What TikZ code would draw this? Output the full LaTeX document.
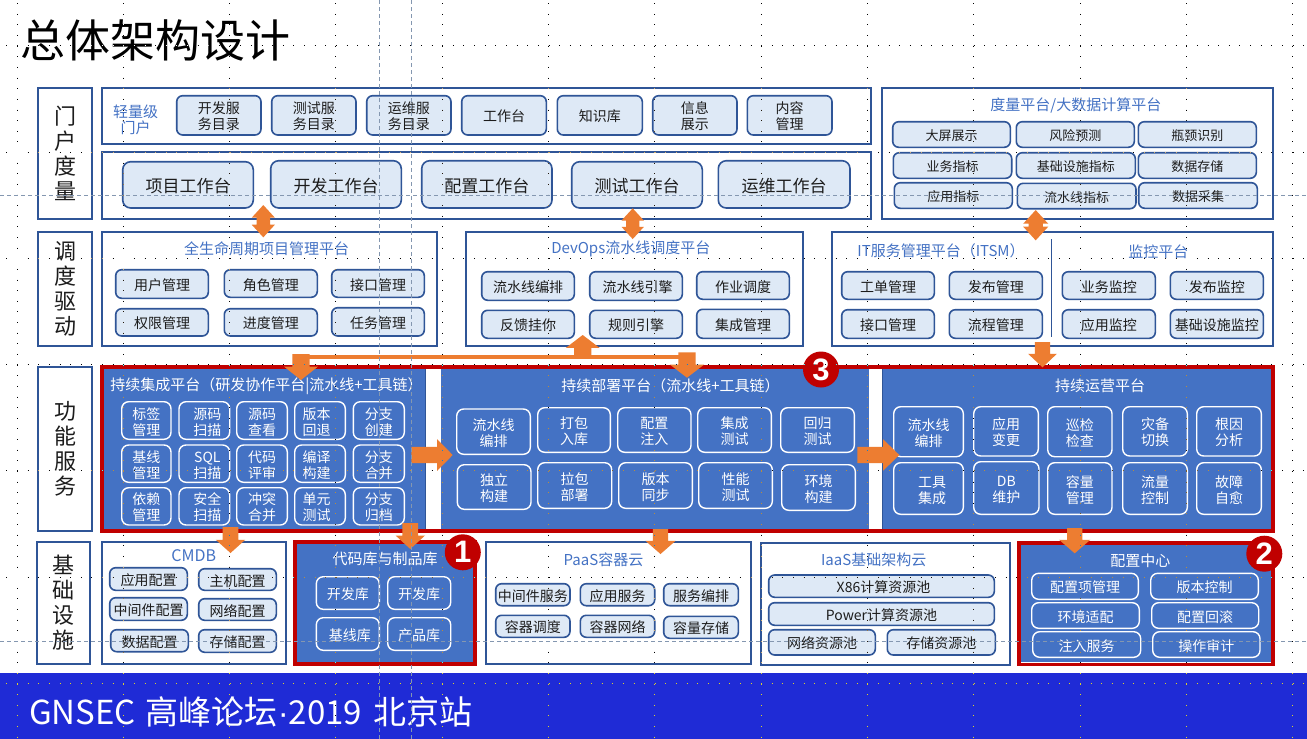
\documentclass[tikz,border=0pt]{standalone}
\usepackage{fontspec}
\setmainfont{Noto Sans CJK SC}
\newfontfamily\numfont{Liberation Sans}
\usetikzlibrary{shapes.arrows,calc}
\definecolor{navy}{HTML}{2F5597}
\definecolor{lite}{HTML}{DEE9F6}
\definecolor{midb}{HTML}{4472C4}
\definecolor{redb}{HTML}{C00000}
\definecolor{org}{HTML}{ED7D31}
\definecolor{foot}{HTML}{1F2BD6}
\definecolor{guide}{HTML}{8497B0}
\definecolor{ink}{HTML}{1C1C1C}
\newcounter{nn}
\newcommand\fs[1]{\fontsize{#1}{16}\selectfont}
\newcommand\rk{\hspace*{6pt}}
\newcommand\dn{\rule{0pt}{1.02em}}
\newcommand\bx[6]{\stepcounter{nn}%
  \node[#5,name=b\thenn,minimum width={(#3-(#1))*1pt},minimum height={(#4-(#2))*1pt}]
    at ({(#1+#3)/2},{(#2+#4)/2}) {#6};}
\newcommand\tx[4]{\stepcounter{nn}\node[#3,name=t\thenn] at (#1,#2) {#4};}
% name, rotation, tail x, tail y, length, shaft, head, head length
\newcommand\arw[8]{%
  \pgfmathsetmacro\hext{(#7-#6)/2}\pgfmathsetmacro\hang{2*atan(#7/2/#8)}\pgfmathsetmacro\hin{#6/2}%
  \node[single arrow,fill=org,draw=none,outer sep=0pt,inner xsep=0pt,inner ysep=\hin pt,
    anchor=tail,rotate=#2,minimum height=#5pt,minimum width=#7pt,
    single arrow head extend=\hext pt,single arrow tip angle=\hang,name=#1] at (#3,#4) {};}
\newcommand\dbl[7]{%
  \pgfmathsetmacro\hext{(#6-#5)/2}\pgfmathsetmacro\hin{#5/2}%
  \node[double arrow,fill=org,draw=none,outer sep=0pt,inner xsep=0pt,inner ysep=\hin pt,
    rotate=90,minimum height=#4pt,minimum width=#6pt,
    double arrow head extend=\hext pt,double arrow tip angle=#7,name=#1] at (#2,#3) {};}
\tikzset{
  x=1pt,y=-1pt,
  every node/.style={inner sep=0pt,outer sep=0pt,align=center,text=ink},
  side/.style={draw=navy,line width=1.8pt,fill=white,font=\fontsize{22}{25}\selectfont},
  frame/.style={draw=navy,line width=1.8pt,fill=white},
  lb/.style={draw=navy,line width=1.6pt,fill=lite,rounded corners=6pt,font=\fs{14}},
  lbs/.style={lb,font=\fs{13}},
  lbb/.style={lb,rounded corners=8pt,font=\fs{17}},
  wb/.style={draw=white,line width=1.4pt,rounded corners=7pt,text=white,font=\fs{14}},
  panel/.style={fill=midb,draw=navy,line width=.8pt},
  redframe/.style={draw=redb,line width=3.8pt},
  ttl/.style={text=midb,font=\fs{15}},
  wttl/.style={text=white,font=\fs{15}},
  badge/.style={circle,fill=redb,minimum size=36pt,text=white,font=\numfont\bfseries\fontsize{31}{31}\selectfont},
  gridline/.style={draw=white,line width=1pt,dash pattern=on 1pt off 9.63pt},
  guideline/.style={draw=guide,line width=.8pt,dash pattern=on 4pt off 3pt},
}
\begin{document}
\begin{tikzpicture}
\useasboundingbox (0,0) rectangle (1307,739);
\fill[white] (0,0) rectangle (1307,739);
% footer + title
\bx{0}{673}{1307}{739}{fill=foot}{}
\node[anchor=west,text=white,font=\fontsize{33}{36}\selectfont,name=foottext] at (29,712) {GNSEC\kern10pt 高峰论坛{\numfont ·}2019\kern12pt 北京站};
\node[text=black,font=\fontsize{45}{50}\selectfont,name=maintitle] at (155.5,40) {总体架构设计};
% side labels
\bx{37.7}{87.7}{92.3}{218.7}{side}{门\\户\\度\\量}
\bx{37.7}{232}{92.3}{346}{side}{调\\度\\驱\\动}
\bx{37.7}{366.7}{92.3}{531}{side}{功\\能\\服\\务}
\bx{36.7}{541.7}{90.3}{664}{side}{基\\础\\设\\施}
% portal row 1
\bx{101.7}{87.7}{870.7}{143.7}{frame}{}
\tx{135.5}{118.7}{text=midb,font=\fs{15}}{\dn 轻量级\\门户}
\bx{176.7}{95.7}{261}{135}{lb}{\dn 开发服\\务目录}
\bx{271.7}{95.7}{356}{135}{lb}{\dn 测试服\\务目录}
\bx{366.7}{95.7}{451}{135}{lb}{\dn 运维服\\务目录}
\bx{461.7}{95.7}{546.3}{135}{lb}{\dn 工作台}
\bx{557.3}{95.7}{642.3}{135}{lb}{\dn 知识库}
\bx{652.7}{95.7}{737}{135}{lb}{\dn 信息\\展示}
\bx{747.3}{95.7}{832}{135}{lb}{\dn 内容\\管理}
% portal row 2
\bx{101.7}{152}{870.7}{218.7}{frame}{}
\bx{122.7}{161.7}{253.3}{208}{lbb}{\dn 项目工作台}
\bx{270.7}{160.7}{401.3}{208}{lbb}{\dn 开发工作台}
\bx{421.7}{160.7}{552}{208}{lbb}{\dn 配置工作台}
\bx{571.7}{161.7}{702.3}{208}{lbb}{\dn 测试工作台}
\bx{718.3}{160.7}{850}{208}{lbb}{\dn 运维工作台}
% metrics
\bx{881.7}{87.7}{1273.3}{218.7}{frame}{}
\tx{1075.8}{104}{ttl}{\dn 度量平台/大数据计算平台}
\bx{892.7}{121.7}{1010.3}{147.3}{lbs}{\dn 大屏展示}
\bx{1016.3}{121.7}{1134.3}{147.3}{lbs}{\dn 风险预测}
\bx{1138.3}{121.7}{1256.3}{147.3}{lbs}{\dn 瓶颈识别}
\bx{893.3}{152.7}{1011.7}{178.3}{lbs}{\dn 业务指标}
\bx{1016.3}{152.7}{1135.3}{178.3}{lbs}{\dn 基础设施指标}
\bx{1138.3}{152.7}{1256.3}{178.3}{lbs}{\dn 数据存储}
\bx{894.3}{182.7}{1012.3}{208.3}{lbs}{\dn 应用指标}
\bx{1017.3}{183.3}{1136}{208.7}{lbs}{\dn 流水线指标}
\bx{1138.7}{182.7}{1257.3}{208.3}{lbs}{\dn 数据采集}
% lifecycle
\bx{101.7}{232}{437}{346}{frame}{}
\tx{266.5}{247.7}{ttl}{\dn 全生命周期项目管理平台}
\bx{115.7}{269.7}{208.3}{298.3}{lb}{\dn 用户管理}
\bx{224.3}{269.7}{317.3}{297.3}{lb}{\dn 角色管理}
\bx{331.7}{269.7}{424.3}{297.3}{lb}{\dn 接口管理}
\bx{115.7}{308.7}{208.3}{336}{lb}{\dn 权限管理}
\bx{224.3}{308.7}{317.3}{336}{lb}{\dn 进度管理}
\bx{331.7}{307.7}{424.3}{336}{lb}{\dn 任务管理}
% devops
\bx{465.7}{232}{803.3}{346}{frame}{}
\tx{630.8}{247.7}{ttl}{\dn DevOps流水线调度平台}
\bx{481.7}{271.7}{574.3}{300.3}{lb}{\dn 流水线编排}
\bx{589.7}{271.7}{682.3}{300.3}{lb}{\dn \hspace*{3pt}流水线引擎}
\bx{696.7}{271.7}{789.3}{299.3}{lb}{\dn 作业调度}
\bx{481.7}{310.3}{574.3}{338.3}{lb}{\dn 反馈挂你}
\bx{589.7}{310.3}{682.3}{338.3}{lb}{\dn 规则引擎}
\bx{696.7}{309.3}{789.3}{338.3}{lb}{\dn 集成管理}
% itsm + monitor
\bx{832}{232}{1273.3}{346}{frame}{}
\coordinate (divtop) at (1051.3,239.3);
\coordinate (divbot) at (1051.3,336.7);
\draw[navy,line width=.9pt] (divtop) -- (divbot);
\tx{941}{250}{ttl}{\dn IT服务管理平台（ITSM）}
\tx{1158.3}{250}{ttl}{\dn 监控平台}
\bx{841.7}{271.7}{934.3}{299.3}{lb}{\dn 工单管理}
\bx{949.3}{271.7}{1042.3}{299.3}{lb}{\dn 发布管理}
\bx{1062.3}{271.7}{1155.3}{299.3}{lb}{\dn 业务监控}
\bx{1170.3}{271.7}{1263.3}{299.3}{lb}{\dn 发布监控}
\bx{841.7}{309.7}{934.3}{338.3}{lb}{\dn 接口管理}
\bx{949.3}{309.7}{1042.3}{338.3}{lb}{\dn 流程管理}
\bx{1062.3}{309.7}{1155.3}{338.3}{lb}{\dn 应用监控}
\bx{1170.3}{309.7}{1263.3}{338.3}{lb}{\dn 基础设施监控}
% function panels
\bx{103}{368}{425}{530}{panel}{}
\bx{441}{368}{869.3}{530}{fill=midb}{}
\bx{882.3}{368}{1272}{530}{panel}{}
\tx{266.5}{385}{wttl}{\dn 持续集成平台（研发协作平台|流水线+工具链）}
\tx{670.5}{384.3}{wttl}{\dn 持续部署平台（流水线+工具链）}
\tx{1100}{384.3}{wttl}{\dn 持续运营平台}
% CI
\bx{121.7}{401.7}{171}{439.3}{wb}{\dn 标签\\管理}
\bx{179}{401.7}{229.7}{439.3}{wb}{\dn\rk 源码\\\rk 扫描}
\bx{236.7}{401.7}{287.3}{439.3}{wb}{\dn 源码\\查看}
\bx{294.7}{401.7}{345.3}{439.3}{wb}{\dn 版本\kern7pt\\回退\kern7pt}
\bx{353.3}{401.7}{404.3}{439.3}{wb}{\dn 分支\\创建}
\bx{121.7}{445}{171}{482.3}{wb}{\dn 基线\\管理}
\bx{179}{445}{229.7}{482.3}{wb}{\dn\rk SQL\\\rk 扫描}
\bx{236.7}{445}{287.3}{482.3}{wb}{\dn 代码\\评审}
\bx{294.7}{445}{345.3}{482.3}{wb}{\dn 编译\kern7pt\\构建\kern7pt}
\bx{353.3}{445}{404.3}{482.3}{wb}{\dn 分支\\合并}
\bx{121.7}{487.7}{171}{525}{wb}{\dn 依赖\\管理}
\bx{179}{487.7}{229.7}{525}{wb}{\dn\rk 安全\\\rk 扫描}
\bx{236.7}{487.7}{287.3}{525}{wb}{\dn 冲突\\合并}
\bx{294.7}{487.7}{345.3}{525}{wb}{\dn 单元\kern7pt\\测试\kern7pt}
\bx{353.3}{487.7}{404.3}{525}{wb}{\dn 分支\\归档}
% CD
\bx{456.7}{409}{530.3}{454.3}{wb}{\dn 流水线\\编排}
\bx{537.7}{407.7}{610.3}{452.3}{wb}{\dn 打包\\入库}
\bx{617.7}{407.7}{691}{452.3}{wb}{\dn 配置\\注入}
\bx{697.7}{407.7}{771.3}{452.3}{wb}{\dn 集成\\测试}
\bx{780.7}{407.7}{854.3}{452.3}{wb}{\dn 回归\\测试}
\bx{457.3}{464.7}{531}{509.3}{wb}{\dn 独立\\构建}
\bx{537.7}{462.7}{611.7}{508.3}{wb}{\dn 拉包\\部署}
\bx{618.7}{462.7}{692.3}{508.3}{wb}{\dn 版本\\同步}
\bx{698.7}{462.7}{772.3}{508.3}{wb}{\dn 性能\\测试}
\bx{781.7}{464.7}{855.3}{510.3}{wb}{\dn 环境\\构建}
% CO
\bx{893.7}{406.7}{963.3}{456.7}{wb}{\dn 流水线\\编排}
\bx{973.7}{406.7}{1038.3}{456}{wb}{\dn 应用\\变更}
\bx{1047.7}{406.7}{1112}{456.7}{wb}{\dn 巡检\\检查}
\bx{1122.7}{406.7}{1187.3}{456}{wb}{\dn 灾备\\切换}
\bx{1196.7}{406.7}{1261.3}{456}{wb}{\dn 根因\\分析}
\bx{893.7}{462.7}{963.3}{514.3}{wb}{\dn\hspace*{7pt}工具\\\hspace*{7pt}集成}
\bx{973.7}{461.7}{1039}{514.3}{wb}{\dn DB\\维护}
\bx{1047.7}{462.7}{1112}{514.3}{wb}{\dn 容量\\管理}
\bx{1122.7}{462.7}{1187.3}{514.3}{wb}{\dn 流量\\控制}
\bx{1196.7}{462.7}{1261.3}{514.3}{wb}{\dn 故障\\自愈}
\bx{102}{367}{1273}{531}{redframe}{}
% CMDB
\bx{101.7}{541.7}{286.3}{664}{frame}{}
\tx{193.7}{555.7}{ttl,font=\fs{16}}{CMDB}
\bx{109.7}{567.7}{187.3}{590.3}{lb}{\dn 应用配置}
\bx{198.7}{568.7}{276.3}{590.3}{lb}{\dn 主机配置}
\bx{109.7}{597.7}{187.3}{620.3}{lb}{\dn 中间件配置}
\bx{198.7}{598.7}{276.3}{620.3}{lb}{\dn 网络配置}
\bx{110.7}{629.7}{188.3}{651.7}{lb}{\dn 数据配置}
\bx{198.7}{629.7}{276.3}{652.3}{lb}{\dn 存储配置}
% repo
\bx{297}{544}{473.3}{662}{fill=midb}{}
\tx{385}{557.3}{wttl}{\dn 代码库与制品库}
\bx{316.3}{576.7}{379.3}{609.3}{wb}{\dn 开发库}
\bx{387.7}{576.7}{450.7}{609.3}{wb}{\dn 开发库}
\bx{316.3}{617.7}{379.3}{650.3}{wb}{\dn\hspace*{4pt}基线库}
\bx{387.7}{617.7}{450.7}{650.3}{wb}{\dn 产品库}
\bx{295}{542}{475}{664}{redframe}{}
% paas
\bx{485.7}{542}{751.3}{664}{frame}{}
\tx{603.5}{558}{ttl}{\dn PaaS容器云}
\bx{495.7}{583.7}{570}{605.7}{lb}{\dn 中间件服务}
\bx{580.3}{583.7}{654.7}{605.7}{lb}{\dn 应用服务}
\bx{663.7}{583.7}{738.3}{605.7}{lb}{\dn 服务编排}
\bx{495.7}{615.3}{570}{637.3}{lb}{\dn 容器调度}
\bx{580.3}{615.3}{654.7}{637.3}{lb}{\dn 容器网络}
\bx{663.7}{616.3}{738.3}{638.3}{lb}{\dn 容量存储}
% iaas
\bx{760.7}{542.7}{1010.3}{665}{frame}{}
\tx{873.7}{558}{ttl}{\dn IaaS基础架构云}
\bx{768.7}{575}{994.3}{597.3}{lb}{\dn \hspace*{4pt}X86计算资源池}
\bx{768.7}{602.7}{994.3}{625.3}{lb}{\dn Power计算资源池}
\bx{768.7}{629.7}{875.3}{655}{lb}{\dn 网络资源池}
\bx{887.3}{629.7}{995.3}{655}{lb}{\dn 存储资源池}
% config center
\bx{1021}{545}{1270.7}{662.3}{fill=midb}{}
\tx{1140.3}{559.3}{wttl}{\dn 配置中心}
\bx{1031.7}{573.3}{1138.3}{599.3}{wb}{\dn 配置项管理}
\bx{1150.7}{573.3}{1258.3}{599.3}{wb}{\dn 版本控制}
\bx{1031.7}{602.7}{1139.3}{628.3}{wb}{\dn 环境适配}
\bx{1151.7}{602.7}{1258.7}{628.3}{wb}{\dn 配置回滚}
\bx{1032.7}{631.7}{1140.7}{657.3}{wb}{\dn 注入服务}
\bx{1152.7}{631.7}{1260}{657.3}{wb}{\dn 操作审计}
\bx{1019}{543}{1273}{664.5}{redframe}{}
% arrows
\arw{busL}{-90}{301}{354}{26}{17}{33.7}{13.3}
\arw{busR}{-90}{687}{352.3}{25.4}{17}{34}{13}
\arw{busU}{90}{582.7}{356}{21}{16.7}{33.3}{12.7}
\draw[org,line width=4pt] ($(busL.tail)+(0,3)$) -- ($(busR.tail)+(0,4.7)$);
\arw{toCD}{0}{411.3}{455}{41.4}{15.7}{31.4}{15.4}
\arw{toCO}{0}{857.3}{455}{42}{16}{31}{16}
\arw{itsmDn}{-90}{1042.5}{342}{25.3}{15}{28.4}{13.3}
\arw{ciCmdb}{-90}{230.5}{527}{26}{15.3}{29}{13}
\arw{ciRepo}{-90}{410.3}{523}{26}{15.3}{29}{13.3}
\arw{cdPaas}{-90}{660.5}{529}{25}{15}{29.7}{13}
\arw{coConf}{-90}{1074.7}{528}{25.3}{15}{30.7}{13.3}
\dbl{dblA}{263.3}{221.2}{32.3}{13}{22.7}{85}
\dbl{dblB}{632.7}{223.7}{30.7}{13}{22}{85}
\dbl{dblC}{1035.7}{225.2}{30.3}{14}{24.7}{85}
% badges
\tx{462.8}{552.3}{badge}{1}
\tx{1264.3}{553.7}{badge}{2}
\tx{821}{369.5}{badge}{3}
% alignment grid
\begin{scope}[blend mode=difference]
\foreach \k in {0,...,12}{
  \draw[gridline] ({17+106.3*\k},3.2) -- ({17+106.3*\k},739);
}
\foreach \k in {0,...,6}{
  \draw[gridline] (6.4,{45.7+106.3*\k}) -- (1307,{45.7+106.3*\k});
}
\end{scope}
% guides
\coordinate (gv1t) at (379.3,0); \coordinate (gv1b) at (379.3,739);
\coordinate (gv2t) at (411.3,0); \coordinate (gv2b) at (411.3,739);
\coordinate (gh1l) at (0,195.7); \coordinate (gh1r) at (1307,195.7);
\coordinate (gh2l) at (0,641); \coordinate (gh2r) at (1307,641);
\draw[guideline] (gv1t) -- (gv1b);
\draw[guideline] (gv2t) -- (gv2b);
\draw[guideline] (gh1l) -- (gh1r);
\draw[guideline] (gh2l) -- (gh2r);
\end{tikzpicture}
\end{document}
